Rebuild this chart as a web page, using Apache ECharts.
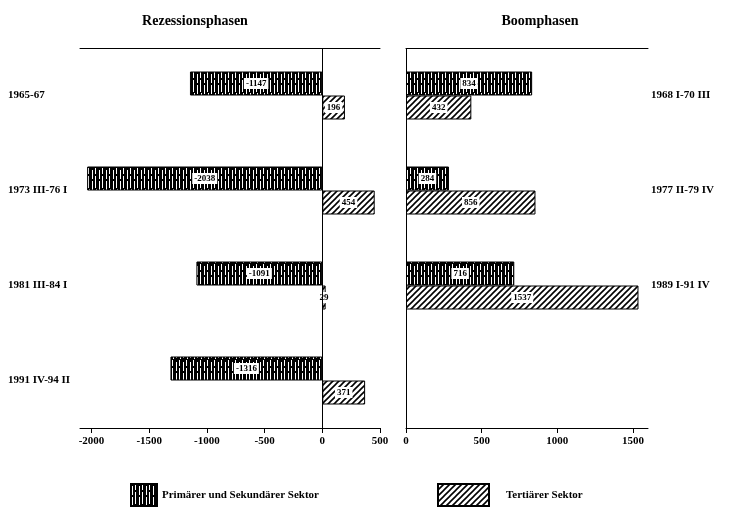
<!DOCTYPE html>
<html><head><meta charset="utf-8">
<script src="https://cdn.jsdelivr.net/npm/echarts@6/dist/echarts.min.js"></script>
<style>html,body{margin:0;padding:0;background:#fff}#c{width:731px;height:507px}</style>
</head><body><div id="c"></div>
<script>
const recCategories = ['1965-67', '1973 III-76 I', '1981 III-84 I', '1991 IV-94 II'];
const recPrimary = [-1147, -2038, -1091, -1316];
const recTertiary = [196, 454, 29, 371];
const boomCategories = ['1968 I-70 III', '1977 II-79 IV', '1989 I-91 IV', ''];
const boomPrimary = [834, 284, 716, null];
const boomTertiary = [432, 856, 1537, null];
const recTicks = [-2000, -1500, -1000, -500, 0, 500];
const boomTicks = [0, 500, 1000, 1500];
const nameP = 'Primärer und Sekundärer Sektor';
const nameT = 'Tertiärer Sektor';

function primaryPattern(){
  const c = document.createElement('canvas'); c.width = 7; c.height = 24;
  const g = c.getContext('2d');
  g.fillStyle = '#000'; g.fillRect(0,0,7,24);
  g.fillStyle = '#fff';
  g.fillRect(1,2,1,9); g.fillRect(1,13,1,9);
  g.fillRect(4,0,1,6); g.fillRect(4,8,1,12);
  g.fillRect(5,21,1,2);
  return {image: c, repeat: 'repeat'};
}
function tertiaryPattern(){
  const c = document.createElement('canvas'); c.width = 6; c.height = 6;
  const g = c.getContext('2d');
  g.fillStyle = '#fff'; g.fillRect(0,0,6,6);
  g.strokeStyle = '#000'; g.lineWidth = 1.6;
  g.beginPath();
  g.moveTo(0,6); g.lineTo(6,0);
  g.moveTo(-1,1); g.lineTo(1,-1);
  g.moveTo(5,7); g.lineTo(7,5);
  g.stroke();
  return {image: c, repeat: 'repeat'};
}
const pP = primaryPattern(), pT = tertiaryPattern();
const FF = '"Liberation Serif", "DejaVu Serif", serif';
const lbl = {show:true, position:'inside', color:'#000', backgroundColor:'#fff', padding:[1,2],
  fontSize:9, fontWeight:'bold', fontFamily:FF};
const zeroLine = {silent:true, symbol:'none', label:{show:false},
  lineStyle:{color:'#000', width:1, type:'solid'}, data:[{xAxis:0}]};

function botAxis(grid, min, max, ticks){
  return {type:'value', gridIndex:grid, min:min, max:max, position:'bottom',
    axisLine:{show:true, onZero:false, lineStyle:{color:'#000', width:1}},
    axisTick:{show:true, length:5, customValues:ticks, lineStyle:{color:'#000'}},
    axisLabel:{customValues:ticks, formatter:v => String(v), color:'#000', fontSize:11,
      fontWeight:'bold', fontFamily:FF, margin:8},
    splitLine:{show:false}};
}
function topAxis(grid, min, max){
  return {type:'value', gridIndex:grid, min:min, max:max, position:'top',
    axisLine:{show:true, onZero:false, lineStyle:{color:'#000', width:1}},
    axisTick:{show:false}, axisLabel:{show:false}, splitLine:{show:false}};
}
const legText = {fontSize:11, fontWeight:'bold', fontFamily:FF, color:'#000'};

const chart = echarts.init(document.getElementById('c'));
chart.setOption({
  backgroundColor:'#fff',
  animation:false,
  title:[
    {text:'Rezessionsphasen', left:190, top:9, textAlign:'center',
      textStyle:{fontSize:14, fontWeight:'bold', fontFamily:FF, color:'#000'}},
    {text:'Boomphasen', left:535, top:9, textAlign:'center',
      textStyle:{fontSize:14, fontWeight:'bold', fontFamily:FF, color:'#000'}}
  ],
  grid:[
    {left:80, top:48, width:300, height:380},
    {left:406, top:48, width:242, height:380}
  ],
  legend:[
    {data:[{name:nameP, icon:'rect'}], left:130, top:483, padding:0, itemWidth:26, itemHeight:22,
      textStyle:Object.assign({padding:[0,0,0,0]}, legText)},
    {data:[{name:nameT, icon:'rect'}], left:437, top:483, padding:0, itemWidth:51, itemHeight:22,
      textStyle:Object.assign({padding:[0,0,0,12]}, legText)}
  ],
  xAxis:[
    botAxis(0, -2100, 500, recTicks),
    topAxis(0, -2100, 500),
    botAxis(1, 0, 1600, boomTicks),
    topAxis(1, 0, 1600)
  ],
  yAxis:[
    {type:'category', gridIndex:0, data:recCategories, inverse:true, position:'left',
      axisLine:{show:false, onZero:false}, axisTick:{show:false},
      axisLabel:{align:'left', margin:72, color:'#000', fontSize:11, fontWeight:'bold', fontFamily:FF}},
    {type:'category', gridIndex:1, data:boomCategories, inverse:true, position:'right',
      axisLine:{show:false, onZero:false}, axisTick:{show:false},
      axisLabel:{align:'left', margin:3, color:'#000', fontSize:11, fontWeight:'bold', fontFamily:FF}}
  ],
  series:[
    {name:nameP, type:'bar', xAxisIndex:0, yAxisIndex:0, data:recPrimary, barWidth:24, barGap:'0%',
      itemStyle:{color:pP, borderColor:'#000', borderWidth:1}, label:lbl, markLine:zeroLine},
    {name:nameT, type:'bar', xAxisIndex:0, yAxisIndex:0, data:recTertiary, barWidth:24, barGap:'0%',
      itemStyle:{color:pT, borderColor:'#000', borderWidth:1}, label:lbl},
    {name:nameP, type:'bar', xAxisIndex:2, yAxisIndex:1, data:boomPrimary, barWidth:24, barGap:'0%',
      itemStyle:{color:pP, borderColor:'#000', borderWidth:1}, label:lbl, markLine:zeroLine},
    {name:nameT, type:'bar', xAxisIndex:2, yAxisIndex:1, data:boomTertiary, barWidth:24, barGap:'0%',
      itemStyle:{color:pT, borderColor:'#000', borderWidth:1}, label:lbl}
  ]
});
</script></body></html>
